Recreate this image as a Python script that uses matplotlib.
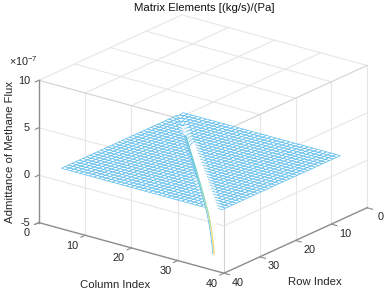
import numpy as np
import matplotlib
matplotlib.use('Agg')
import matplotlib.pyplot as plt
from matplotlib.colors import LinearSegmentedColormap
from mpl_toolkits.mplot3d import proj3d

plt.rcParams['font.family'] = ['Liberation Sans', 'DejaVu Sans']
plt.rcParams['mathtext.default'] = 'regular'

# values in units of 1e-7, element (row, row - 1) for row = 2..35
sub_diagonal = [-0.1, -0.15, -0.2, -0.3, -0.35, -0.4, -0.45, -0.5, -0.6, -0.65, -0.7,
                -0.75, -0.8, -0.85, -0.9, -0.95, -1.0, -1.1, -1.2, -1.25, -1.3, -1.4,
                -1.5, -1.6, -1.7, -1.8, -1.9, -2.0, -2.2, -2.5, -2.8, -3.2, -3.8, -4.65]
col_ticks = [0, 10, 20, 30, 40]
row_ticks = [0, 10, 20, 30, 40]
z_ticks = [-5, 0, 5, 10]

n = len(sub_diagonal) + 1
index = np.arange(1, n + 1)
C, R = np.meshgrid(index, index)
Z = np.zeros((n, n))
for i, v in enumerate(sub_diagonal):
    Z[i + 1, i] = v

W, H = 387, 292
fig = plt.figure(figsize=(W / 100, H / 100), dpi=100)
side = 420
ax = fig.add_axes([-12.7 / W, -67.7 / H, side / W, side / H], projection='3d', proj_type='ortho')
ax.view_init(elev=-20.7, azim=-127.7)
ax.set_box_aspect((1, 1, 0.65), zoom=353.6 / side)
ax.set_xlim(0, 40)
ax.set_ylim(0, 40)
ax.set_zlim(-5, 10)
ax.set_axis_off()
ax.computed_zorder = False

grid_color = '#e6e6e6'
edge_color = '#d2d2d2'
axis_color = '#8c8c8c'
text_color = '#262626'


def tick_label(x, y, z, s, ha='center'):
    # tick label at a point of the box, as plain 2d text
    px, py, _ = proj3d.proj_transform(x, y, z, ax.get_proj())
    ax.text2D(px, py, s, transform=ax.transData, ha=ha, va='center',
              fontsize=7.8, color=text_color)


# grid on the ceiling and the two walls
for t in col_ticks[1:-1]:
    ax.plot([t, t], [0, 40], [10, 10], color=grid_color, lw=0.8, zorder=1)
    ax.plot([t, t], [40, 40], [-5, 10], color=grid_color, lw=0.8, zorder=1)
for t in row_ticks[1:-1]:
    ax.plot([0, 40], [t, t], [10, 10], color=grid_color, lw=0.8, zorder=1)
    ax.plot([40, 40], [t, t], [-5, 10], color=grid_color, lw=0.8, zorder=1)
for t in z_ticks[1:-1]:
    ax.plot([0, 40], [40, 40], [t, t], color=grid_color, lw=0.8, zorder=1)
    ax.plot([40, 40], [0, 40], [t, t], color=grid_color, lw=0.8, zorder=1)

ax.plot([0, 0, 40], [40, 0, 0], [10, 10, 10], color=grid_color, lw=0.8, zorder=1)
ax.plot([40, 40], [0, 0], [-5, 10], color=grid_color, lw=0.8, zorder=1)
ax.plot([0, 40, 40], [40, 40, 0], [10, 10, 10], color=edge_color, lw=0.8, zorder=1)
ax.plot([40, 40], [40, 40], [-5, 10], color=edge_color, lw=0.8, zorder=1)

# axis lines and ticks
ax.plot([0, 0], [40, 40], [-5, 10], color=axis_color, lw=1, zorder=2)
ax.plot([0, 40, 40], [40, 40, 0], [-5, -5, -5], color=axis_color, lw=1, zorder=2)
for t in z_ticks:
    ax.plot([0, 0], [40, 41], [t, t], color=axis_color, lw=0.8, zorder=2)
    tick_label(0, 42.5, t + 0.4, str(t), ha='right')
for t in col_ticks:
    ax.plot([t, t], [40, 41.2], [-5, -5], color=axis_color, lw=0.8, zorder=2)
    tick_label(t, 43.5, -5.5, str(t))
for t in row_ticks:
    ax.plot([40, 41.2], [t, t], [-5, -5], color=axis_color, lw=0.8, zorder=2)
    tick_label(43, t, -5.6, str(t))

# the mesh, white faces; a wedge of cells next to the spike gets white edges
mesh_color = np.array(matplotlib.colors.to_rgba('#5cbcec'))
surf = ax.plot_surface(C, R, Z, color='white', shade=False, rstride=1, cstride=1,
                       linewidth=0.5, zorder=3)
edges = np.tile(mesh_color, ((n - 1) ** 2, 1))
faces = np.tile([1.0, 1.0, 1.0, 1.0], ((n - 1) ** 2, 1))
diff = (C - R)[:-1, :-1].ravel()
rows = R[:-1, :-1].ravel()
wedge = ((diff == -1) & (rows >= 5)) | ((diff == 0) & (rows >= 11)) | ((diff == -2) & (rows >= 24))
edges[wedge] = [1, 1, 1, 1]
# right of the spike the last row is missing
cut = (diff >= -1) & (rows == n - 1)
edges[cut] = [1, 1, 1, 0]
faces[cut] = [1, 1, 1, 0]
surf.set_edgecolor(edges)
surf.set_facecolor(faces)

# spike lines, blue on the left and green to yellow on the right
cmap = LinearSegmentedColormap.from_list('spike', ['#f5dc80', '#b8e0a0', '#7fd8c8', '#5bbce8'])
for i in range(6, len(sub_diagonal) - 1):
    zs = sub_diagonal[i:i + 2]
    cs = [index[i], index[i + 1]]
    rs = [index[i + 1], index[i + 2]]
    ax.plot(cs, rs, zs, color=cmap(1 + zs[1] / 3.5), lw=1.1, zorder=4, solid_capstyle='round')
    ax.plot([cs[0] - 0.3, cs[1] - 0.3], rs, zs, color='#5cbcec', lw=0.5, zorder=5)

fig.text(204 / W, 1 - 8 / H, 'Matrix Elements [(kg/s)/(Pa]', ha='center', va='center',
         fontsize=8.2, color='#111111')
fig.text(115 / W, 1 - 285 / H, 'Column Index', ha='center', va='center', fontsize=8.2, color=text_color)
fig.text(315 / W, 1 - 282 / H, 'Row Index', ha='center', va='center', fontsize=8.2, color=text_color)
fig.text(10 / W, 1 - 152 / H, 'Admittance of Methane Flux', ha='center', va='center',
         rotation=90, fontsize=8.2, color=text_color)
fig.text(23 / W, 1 - 61 / H, '×10$^{-7}$', ha='center', va='center', fontsize=7.8, color=text_color)

fig.savefig('out.png', dpi=100)
